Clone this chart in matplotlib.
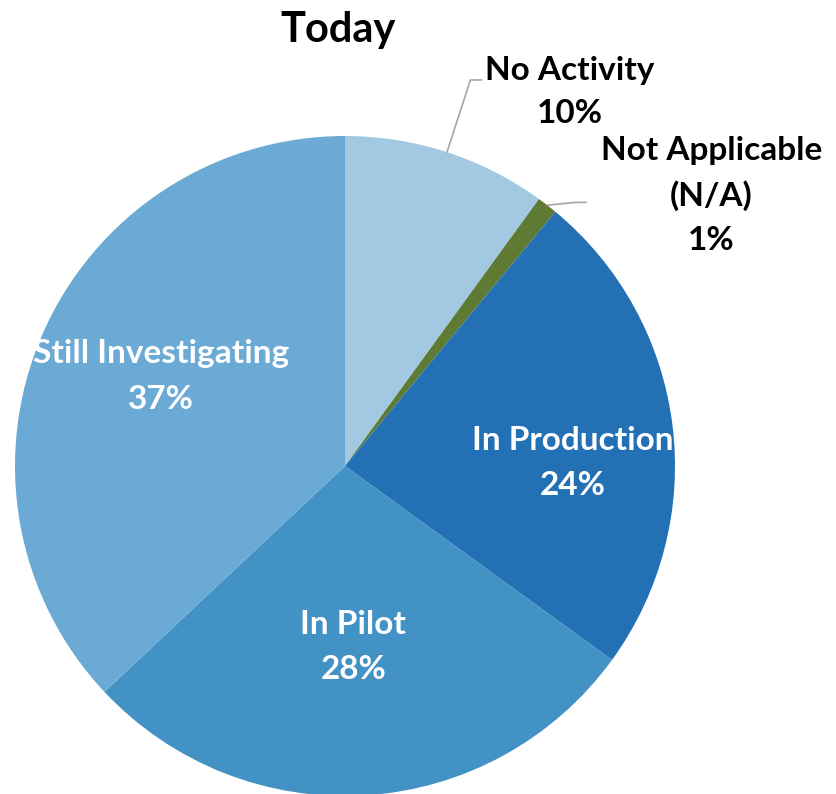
import matplotlib.pyplot as plt
import numpy as np

# slices in clockwise order from 12 o'clock
categories = ['No Activity', 'Not Applicable\n(N/A)', 'In Production', 'In Pilot', 'Still Investigating']
shares = [10, 1, 24, 28, 37]
colors = ['#A3C9E2', '#5F7A33', '#2470B5', '#4392C6', '#6AAAD5']

plt.rcParams['font.family'] = ['Lato', 'DejaVu Sans']

fig = plt.figure(figsize=(8.36, 7.94), dpi=100)
ax = fig.add_axes([0, 0, 1, 1])

cx, cy, r = 345, 328, 330
wedges, _ = ax.pie(shares, colors=colors, startangle=90, counterclock=False,
                   center=(cx, cy), radius=r, wedgeprops=dict(linewidth=0))
ax.set_xlim(0, 836)
ax.set_ylim(0, 794)
ax.set_aspect('equal')
ax.axis('off')

# label placement: (inside?, radial fraction, angle shift)
placement = [(False, 1.23, 0), (False, 1.06, -3.3), (True, 0.69, -6.5), (True, 0.55, -1), (True, 0.62, -2.5)]
text_offset = [(4, -12), (15, 7), None, None, None]

for w, cat, val, pl, off in zip(wedges, categories, shares, placement, text_offset):
    mid = np.deg2rad((w.theta1 + w.theta2) / 2)
    inside, frac, shift = pl
    lab = f'{cat}\n{val}%'
    if inside:
        a = mid + np.deg2rad(shift)
        ax.text(cx + frac * r * np.cos(a), cy + frac * r * np.sin(a), lab,
                ha='center', va='center', color='white', fontsize=24,
                fontweight='bold', linespacing=1.68)
    else:
        ex, ey = cx + r * np.cos(mid), cy + r * np.sin(mid)
        a = mid + np.deg2rad(shift)
        kx, ky = cx + frac * r * np.cos(a), cy + frac * r * np.sin(a)
        ax.plot([ex, kx, kx + 11], [ey, ky, ky], color='#A6A6A6', lw=1.2)
        ax.text(kx + 11 + off[0], ky + off[1], lab, ha='left', va='center',
                multialignment='center', color='black', fontsize=24,
                fontweight='bold', linespacing=1.6)

ax.text(338, 764, 'Today', ha='center', va='center', fontsize=30, fontweight='bold')

fig.savefig('out.png', dpi=100)
